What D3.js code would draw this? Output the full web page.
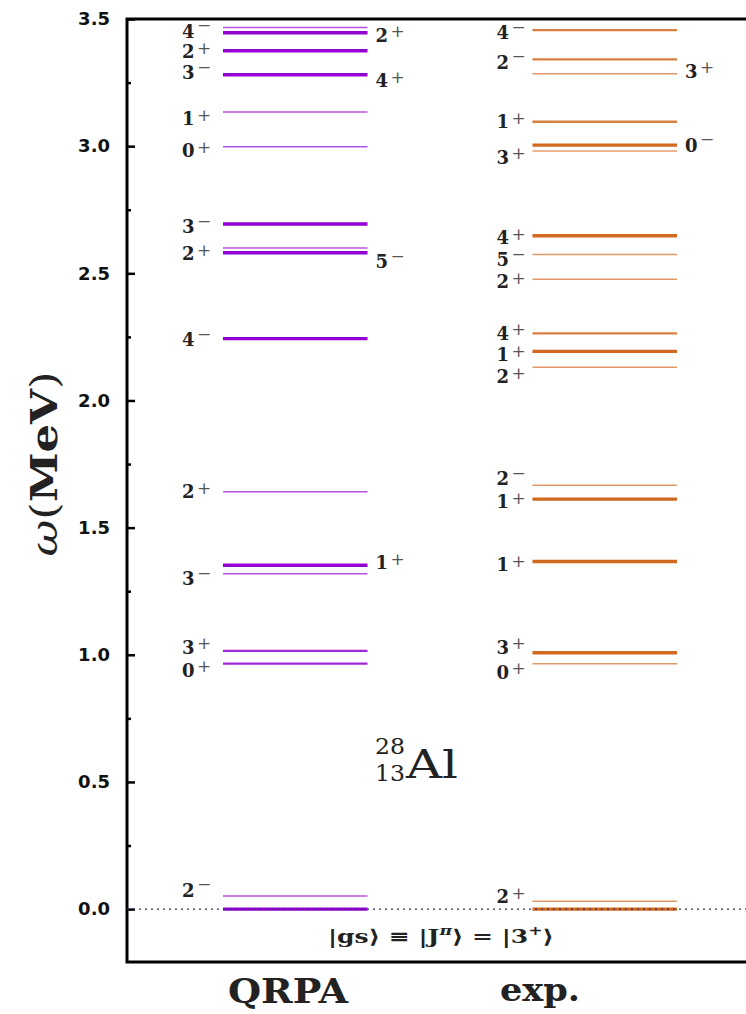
<!DOCTYPE html>
<html><head><meta charset="utf-8">
<script src="https://cdn.jsdelivr.net/npm/d3@7"></script>
<style>body{margin:0;background:#fff}svg{display:block}</style>
</head><body>
<svg id="c" width="746" height="1014"></svg>
<script>
// ---- data (energies in MeV) ----
const columns = ["QRPA", "exp."];
const qrpaE = [3.467,3.446,3.375,3.281,3.134,2.998,2.694,2.600,2.581,2.243,1.641,1.352,1.319,1.015,0.965,0.052,0.0];
const qrpaW = [1,3,3,3,1,1,3,1,3,3,1,3,1,2,2,1,3];
const expE  = [3.456,3.341,3.285,3.096,3.004,2.981,2.648,2.574,2.477,2.264,2.193,2.131,1.667,1.612,1.367,1.008,0.965,0.031,0.0];
const expW  = [2,2,1,2,3,1,3,1,1,2,3,1,1,3,3,3,1,1,3];

const qrpaLeftJ = ["4","2","3","1","0","3","2","4","2","3","3","0","2"];
const qrpaLeftP = ["−","+","−","+","+","−","+","−","+","−","+","+","−"];
const qrpaLeftE = [3.452,3.372,3.290,3.107,2.982,2.683,2.578,2.238,1.641,1.300,1.030,0.940,0.075];
const qrpaRightJ = ["2","4","5","1"];
const qrpaRightP = ["+","+","−","+"];
const qrpaRightE = [3.437,3.257,2.545,1.362];

const expLeftJ = ["4","2","1","3","4","5","2","4","1","2","2","1","1","3","0","2"];
const expLeftP = ["−","−","+","+","+","−","+","+","+","+","−","+","+","+","+","+"];
const expLeftE = [3.447,3.330,3.096,2.957,2.640,2.554,2.468,2.264,2.179,2.094,1.693,1.602,1.353,1.030,0.932,0.048];
const expRightJ = ["3","0"];
const expRightP = ["+","−"];
const expRightE = [3.295,3.004];

const majorTicks = [0,0.5,1.0,1.5,2.0,2.5,3.0,3.5];
const minorTicks = [0.25,0.75,1.25,1.75,2.25,2.75,3.25];
const yDomain = [-0.208, 3.5];

// ---- layout ----
const svg = d3.select("#c");
const axisX = 127, plotTop = 19, plotBottom = 962;
const y = d3.scaleLinear().domain(yDomain).range([plotBottom, plotTop]);
const x = d3.scaleBand().domain(columns).range([223, 677]).paddingInner(0.533).paddingOuter(0);
const colors = {"QRPA": "#9400d3", "exp.": "#d2691e"};
const widthScale = d3.scaleOrdinal().domain([1,2,3]).range([1.5, 2.3, 3.4]);
const opacityScale = d3.scaleOrdinal().domain([1,2,3]).range([0.68, 0.85, 1]);

// frame
svg.append("rect").attr("x", axisX).attr("y", plotTop).attr("width", 700).attr("height", plotBottom - plotTop)
  .attr("fill", "none").attr("stroke", "#000").attr("stroke-width", 3);

// axes
const gMaj = svg.append("g").attr("transform", `translate(${axisX},0)`)
  .call(d3.axisLeft(y).tickValues(majorTicks).tickSizeInner(-8).tickSizeOuter(0).tickPadding(17).tickFormat(d3.format(".1f")));
gMaj.select(".domain").remove();
gMaj.selectAll(".tick line").attr("stroke", "#000").attr("stroke-width", 2.5);
gMaj.selectAll(".tick text").attr("font-family", "DejaVu Sans").attr("font-weight", "bold")
  .attr("font-size", 18).attr("fill", "#111");
const gMin = svg.append("g").attr("transform", `translate(${axisX},0)`)
  .call(d3.axisLeft(y).tickValues(minorTicks).tickSizeInner(-4).tickSizeOuter(0).tickFormat(""));
gMin.select(".domain").remove();
gMin.selectAll(".tick line").attr("stroke", "#000").attr("stroke-width", 2.5);

// axis title
const title = svg.append("text").attr("transform", `translate(57,464) rotate(-90)`)
  .attr("text-anchor", "middle").attr("font-family", "DejaVu Serif").attr("font-size", 38).attr("fill", "#222")
  .attr("textLength", 185).attr("lengthAdjust", "spacingAndGlyphs");
title.append("tspan").attr("font-style", "italic").text("ω");
title.append("tspan").text("(");
title.append("tspan").attr("font-weight", "bold").text("MeV");
title.append("tspan").text(")");

// levels
function drawLevels(col, E, W) {
  svg.append("g").selectAll("line").data(E.map((e, i) => ({e, w: W[i]}))).join("line")
    .attr("x1", x(col)).attr("x2", x(col) + x.bandwidth())
    .attr("y1", d => y(d.e)).attr("y2", d => y(d.e))
    .attr("stroke", colors[col]).attr("stroke-width", d => widthScale(d.w))
    .attr("stroke-opacity", d => opacityScale(d.w));
}
drawLevels("QRPA", qrpaE, qrpaW);
drawLevels("exp.", expE, expW);

function drawLabels(xPos, J, P, E) {
  const g = svg.append("g").selectAll("g").data(J.map((j, i) => ({j, p: P[i], e: E[i]}))).join("g")
    .attr("transform", d => `translate(${xPos},${y(d.e)})`);
  g.append("text").attr("x", 0).attr("y", 0).attr("dy", "0.36em")
    .attr("font-family", "DejaVu Serif").attr("font-weight", "bold").attr("font-size", 18).attr("fill", "#222")
    .text(d => d.j);
  g.append("text").attr("x", 15).attr("y", d => d.p === "+" ? -4 : -6).attr("dy", "0.36em")
    .attr("font-family", "DejaVu Serif").attr("font-size", 17).attr("fill", "#555")
    .text(d => d.p);
}
drawLabels(x("QRPA") - 41, qrpaLeftJ, qrpaLeftP, qrpaLeftE);
drawLabels(x("QRPA") + x.bandwidth() + 8, qrpaRightJ, qrpaRightP, qrpaRightE);
drawLabels(x("exp.") - 36, expLeftJ, expLeftP, expLeftE);
drawLabels(x("exp.") + x.bandwidth() + 8, expRightJ, expRightP, expRightE);

// ground-state reference line
svg.append("line").attr("x1", axisX).attr("x2", 746).attr("y1", y(0)).attr("y2", y(0))
  .attr("stroke", "#2e2e6e").attr("stroke-width", 1.3).attr("stroke-dasharray", "2,4");

// nucleus label
const nuc = svg.append("g");
nuc.append("text").attr("x", 375).attr("y", 754).attr("font-family", "DejaVu Serif").attr("font-size", 22)
  .attr("fill", "#222").attr("textLength", 30).attr("lengthAdjust", "spacingAndGlyphs").text("28");
nuc.append("text").attr("x", 375).attr("y", 781).attr("font-family", "DejaVu Serif").attr("font-size", 22)
  .attr("fill", "#222").attr("textLength", 30).attr("lengthAdjust", "spacingAndGlyphs").text("13");
nuc.append("text").attr("x", 406).attr("y", 778).attr("font-family", "DejaVu Serif").attr("font-size", 40)
  .attr("fill", "#222").attr("textLength", 52).attr("lengthAdjust", "spacingAndGlyphs").text("Al");

// ground state text
const gs = svg.append("text").attr("x", 441).attr("y", 943).attr("text-anchor", "middle")
  .attr("font-family", "DejaVu Serif").attr("font-weight", "bold").attr("font-size", 19).attr("fill", "#222")
  .attr("textLength", 226).attr("lengthAdjust", "spacingAndGlyphs");
gs.append("tspan").text("|gs⟩ ≡ |J");
gs.append("tspan").attr("dy", -8).attr("font-size", 13).attr("font-style", "italic").text("π");
gs.append("tspan").attr("dy", 8).text("⟩ = |3");
gs.append("tspan").attr("dy", -8).attr("font-size", 13).text("+");
gs.append("tspan").attr("dy", 8).text("⟩");

// column names
svg.append("text").attr("x", 288).attr("y", 1003).attr("text-anchor", "middle")
  .attr("font-family", "DejaVu Serif").attr("font-weight", "bold").attr("font-size", 34).attr("fill", "#222")
  .attr("textLength", 120).attr("lengthAdjust", "spacingAndGlyphs").text(columns[0]);
svg.append("text").attr("x", 540).attr("y", 1001).attr("text-anchor", "middle")
  .attr("font-family", "DejaVu Serif").attr("font-weight", "bold").attr("font-size", 32).attr("fill", "#222")
  .attr("textLength", 80).attr("lengthAdjust", "spacingAndGlyphs").text(columns[1]);
</script>
</body></html>
